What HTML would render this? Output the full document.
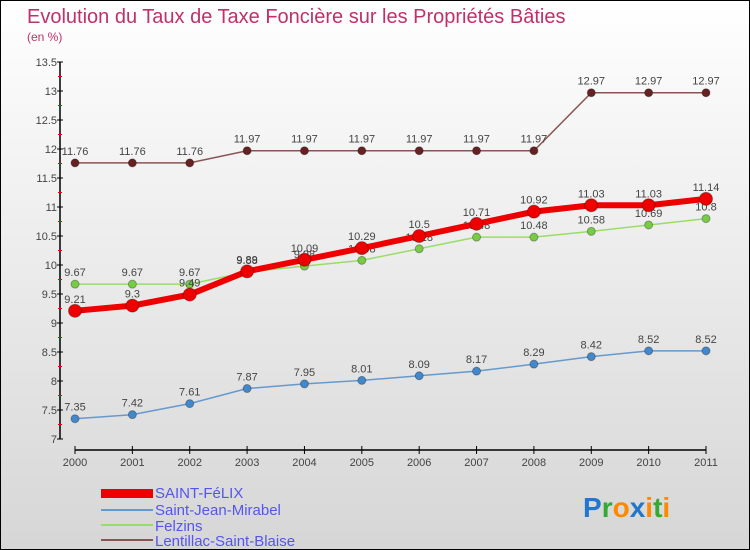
<!DOCTYPE html>
<html><head><meta charset="utf-8"><style>
body{margin:0;}
#wrap{position:relative;width:748px;height:548px;border:1px solid #000;background:linear-gradient(#ffffff,#d6d6d6);font-family:"Liberation Sans",sans-serif;overflow:hidden}
svg text{font-family:"Liberation Sans",sans-serif}
</style></head><body>
<div id="wrap">
<svg width="748" height="548" id="svg">
<text x="26" y="22" font-size="20" fill="#c0306a">Evolution du Taux de Taxe Foncière sur les Propriétés Bâties</text>
<text x="26" y="40" font-size="12" fill="#c0306a">(en %)</text>
<g id="axes"></g><g id="series"></g>
<g>
<rect x="100" y="488" width="52" height="9" fill="#e00"/>
<text x="154" y="497" font-size="15" fill="#5555ee">SAINT-FéLIX</text>
<rect x="100" y="508" width="52" height="2" fill="#6699cc"/>
<text x="154" y="514" font-size="15" fill="#5555ee">Saint-Jean-Mirabel</text>
<rect x="100" y="523" width="52" height="2" fill="#99dd66"/>
<text x="154" y="530" font-size="15" fill="#5555ee">Felzins</text>
<rect x="100" y="538" width="52" height="2" fill="#885555"/>
<text x="154" y="545" font-size="15" fill="#5555ee">Lentillac-Saint-Blaise</text>
</g>
<g font-size="28" font-weight="bold">
<text x="582" y="516"><tspan fill="#2277cc">P</tspan><tspan fill="#33aa33">r</tspan><tspan fill="#ff8800">o</tspan><tspan fill="#2277cc">x</tspan><tspan fill="#ff8800">i</tspan><tspan fill="#33aa33">t</tspan><tspan fill="#ff8800">i</tspan></text>
</g>
</svg></div>
<script>
const years=[2000,2001,2002,2003,2004,2005,2006,2007,2008,2009,2010,2011];
const yTicks=[7,7.5,8,8.5,9,9.5,10,10.5,11,11.5,12,12.5,13,13.5];
const saintFelix=[9.21,9.3,9.49,9.89,10.09,10.29,10.5,10.71,10.92,11.03,11.03,11.14];
const saintJean=[7.35,7.42,7.61,7.87,7.95,8.01,8.09,8.17,8.29,8.42,8.52,8.52];
const felzins=[9.67,9.67,9.67,9.88,9.98,10.08,10.28,10.48,10.48,10.58,10.69,10.8];
const lentillac=[11.76,11.76,11.76,11.97,11.97,11.97,11.97,11.97,11.97,12.97,12.97,12.97];
const NS="http://www.w3.org/2000/svg";
const X=i=>74+i*(631/11);
const Y=v=>438-(v-7)*(377/6.5);
function mk(t,a,p){const e=document.createElementNS(NS,t);for(const k in a)e.setAttribute(k,a[k]);p.appendChild(e);return e;}
const ax=document.getElementById('axes');
let l=mk('line',{x1:59,y1:Y(13.5),x2:59,y2:Y(7),stroke:'#000','stroke-width':1.5},ax);


yTicks.forEach(v=>{
  mk('line',{x1:56,y1:Y(v),x2:62,y2:Y(v),stroke:'#000'},ax);
  mk('line',{x1:57,y1:Y(v+0.25),x2:61,y2:Y(v+0.25),stroke:v<13.5?'#e00':'none'},ax);
  const t=mk('text',{x:56,y:Y(v)+4,'font-size':11,'text-anchor':'end',fill:'#444'},ax);t.textContent=v;
  
  
});
l=mk('line',{x1:X(0),y1:449,x2:X(11),y2:449,stroke:'#000','stroke-width':1.5},ax);


years.forEach((y,i)=>{
  mk('line',{x1:X(i),y1:445,x2:X(i),y2:453,stroke:'#000'},ax);
  const t=mk('text',{x:X(i),y:465,'font-size':11,'text-anchor':'middle',fill:'#444'},ax);t.textContent=y;
  
  
});
const sg=document.getElementById('series');
function draw(vals,color,w,r,dot,name){
  const g=mk('g',{},sg);
  
  
  mk('polyline',{points:vals.map((v,i)=>X(i)+','+Y(v)).join(' '),fill:'none',stroke:color,'stroke-width':w},g);
  vals.forEach((v,i)=>{
    const c=mk('circle',{cx:X(i),cy:Y(v),r:r,fill:dot,stroke:'rgba(0,0,0,0.3)'},g);
    
    
    const t=mk('text',{x:X(i),y:Y(v)-8,'font-size':11,'text-anchor':'middle',fill:'#444'},g);t.textContent=v;
    
    
  });
}
draw(lentillac,'#885555',1.5,4,'#662222','lentillac');
draw(saintJean,'#6699cc',1.5,4,'#4488cc','saint-jean');
draw(felzins,'#99dd66',1.5,4,'#77cc44','felzins');
draw(saintFelix,'#ee0000',6,6.5,'#ee0000','saint-felix');
</script>
</body></html>
